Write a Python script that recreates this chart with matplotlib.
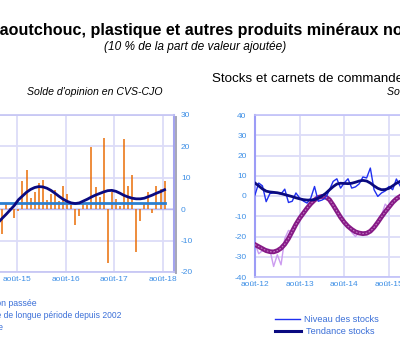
import numpy as np
import matplotlib
matplotlib.use("Agg")
import matplotlib.pyplot as plt
from matplotlib.lines import Line2D

plt.rcParams["font.family"] = ["Liberation Sans", "DejaVu Sans"]
plt.rcParams["axes.unicode_minus"] = False

W, H = 400, 353

# --- left panel : production passée, monthly, months relative to août-15 ---
prod_start = -4
production = [-7.8, 1.7, 0.3, -2.9, -0.6, 9.1, 12.6, 3.6, 5.6, 8.5, 9.4, 3.0, 4.7, 6.2,
              2.5, 7.5, 4.7, 1.2, -5.0, -2.3, 1.5, 1.2, 19.8, 7.0, 4.0, 22.8, -17.2,
              5.6, 3.2, 1.0, 22.3, 7.5, 11.0, -13.5, -3.9, 1.5, 5.4, -1.1, 7.3, 6.5, 9.1]
trend_start = -5
prod_trend = [-4.3, -2.9, -1.6, -0.2, 1.2, 3.0, 4.2, 5.4, 6.3, 6.9, 7.2, 7.1, 6.7, 6.0,
              5.1, 4.1, 3.2, 2.5, 2.0, 1.8, 2.0, 2.6, 3.2, 3.9, 4.5, 5.0, 5.5, 5.9, 6.0,
              5.7, 5.1, 4.4, 3.9, 3.5, 3.3, 3.3, 3.5, 4.0, 4.5, 5.1, 5.6, 6.2]
long_run_avg = 1.9
left_ticks = [0, 12, 24, 36]
left_labels = ["août-15", "août-16", "août-17", "août-18"]

# --- right panel : stocks et carnets, monthly from août-12 ---
stocks = [0.6, 6.4, 5.0, -2.8, 1.2, 1.6, 1.5, 1.0, 3.4, -3.2, -2.6, 1.5, -1.0, -2.5,
          -3.5, -1.0, 4.7, -2.6, -2.0, -1.0, 3.0, 7.2, 8.5, 3.9, 6.5, 8.5, 3.9, 4.5,
          6.0, 9.4, 8.9, 13.8, 3.1, -0.2, 1.5, 2.5, 4.7, 3.1, 8.4, 5.0]
stocks_trend = [6.4, 5.0, 3.5, 2.4, 2.0, 1.8, 1.6, 1.2, 0.7, 0.2, -0.3, -0.9, -1.4, -1.8,
                -2.0, -2.0, -1.8, -1.0, 0.0, 1.3, 3.0, 4.6, 5.9, 6.3, 6.2, 6.1, 6.3, 6.8,
                7.4, 7.7, 7.4, 6.4, 5.0, 3.8, 3.1, 3.2, 3.8, 5.0, 6.3, 7.2]
carnets = [-23.5, -28.5, -27.0, -26.0, -26.5, -34.8, -29.0, -34.0, -21.0, -17.0, -17.8,
           -14.5, -11.5, -8.0, -6.5, -3.0, -2.5, -0.5, 0.5, -1.0, -2.5, -3.5, -8.5, -10.0,
           -13.5, -14.5, -18.0, -20.0, -18.0, -19.5, -18.0, -17.0, -16.5, -12.0, -9.5,
           -4.0, -6.0, -2.0, -1.0, 0.0]
carnets_trend = [-24.0, -25.0, -26.0, -27.0, -27.5, -27.6, -27.0, -25.8, -23.8, -21.0,
                 -17.5, -14.0, -11.0, -8.5, -6.0, -3.8, -2.0, -0.7, -0.2, -0.5, -1.8,
                 -4.5, -7.5, -10.5, -13.0, -15.0, -16.5, -17.7, -18.3, -18.6, -18.4,
                 -17.4, -15.5, -13.0, -10.3, -7.8, -5.5, -3.2, -1.4, -0.2]
right_ticks = [0, 12, 24, 36, 48, 60, 72]
right_labels = ["août-12", "août-13", "août-14", "août-15", "août-16", "août-17", "août-18"]

GRID = "#dcdcf8"
TICK = "#3d8fe6"
LEG = "#3a6fd8"


def px(x):
    return x / W


def py(y):
    return 1 - y / H


fig = plt.figure(figsize=(W / 100, H / 100), dpi=100)
fig.patch.set_facecolor("white")

# ---------- left panel ----------
axl = fig.add_axes([px(-130), py(272), px(304), (272 - 115) / H])
m_prod = np.arange(len(production)) + prod_start
m_trend = np.arange(len(prod_trend)) + trend_start
axl.vlines(m_prod + 0.35, 0, production, colors="#ea7310", lw=1.15, zorder=2)
axl.plot([m_prod[0] - 40, m_prod[-1] + 0.35], [long_run_avg, long_run_avg],
         color="#2a7fd0", lw=2, zorder=3)
axl.plot(m_trend + 0.35, prod_trend, color="#0a0a80", lw=2, zorder=4)
axl.axhline(0, color="#b8b8f0", lw=1, zorder=1)
axl.set_xlim(-36.2, 38.67)
axl.set_ylim(-20, 30)
axl.set_yticks([-20, -10, 0, 10, 20, 30])
axl.set_xticks(left_ticks)
axl.set_xticklabels(left_labels)
axl.yaxis.tick_right()
axl.tick_params(axis="both", labelsize=6, colors=TICK, length=0, pad=3)
axl.tick_params(axis="y", pad=5)
axl.grid(True, color=GRID, lw=1.3, zorder=0)
axl.set_axisbelow(True)
for s in ["top", "bottom", "left"]:
    axl.spines[s].set_color("#c4c4f4")
    axl.spines[s].set_linewidth(1.2)
axl.spines["right"].set_color("#a4a4ee")
axl.spines["right"].set_linewidth(1.5)
fig.add_artist(Line2D([px(176), px(176)], [py(117), py(273)], color="#a6a6b8", lw=1.4))

# ---------- right panel ----------
axr = fig.add_axes([px(255), py(277), px(285), 162 / H])
m_r = np.arange(len(stocks))
axr.plot(m_r, carnets, color="#cc9cf0", lw=1, zorder=2)
axr.plot(m_r, carnets_trend, color="#861a86", lw=3.4, zorder=3)
axr.plot(m_r, carnets_trend, color="#c27ac2", lw=0.8, ls=(0, (1.5, 1.5)), zorder=4)
axr.plot(m_r, stocks, color="#1f2ff0", lw=1, zorder=3)
axr.plot(m_r, stocks_trend, color="#0a0a80", lw=2, zorder=4)
axr.set_xlim(0, 76.6)
axr.set_ylim(-40, 40)
axr.set_yticks(range(-40, 41, 10))
axr.set_xticks(right_ticks)
axr.set_xticklabels(right_labels)
axr.tick_params(axis="both", labelsize=6, colors=TICK, length=0, pad=3)
axr.tick_params(axis="y", pad=6)
axr.grid(True, color=GRID, lw=1.3, zorder=0)
axr.set_axisbelow(True)
for s in ["top", "bottom", "right"]:
    axr.spines[s].set_color("#c0c0f8")
    axr.spines[s].set_linewidth(1.2)
axr.spines["left"].set_color("#9c9cf6")
axr.spines["left"].set_linewidth(1.5)

# ---------- titles ----------
title = "Caoutchouc, plastique et autres produits minéraux non métalliques"
r = fig.canvas.get_renderer()
tmp = fig.text(0, 0, "C", fontsize=11.6, fontweight="bold")
wC = tmp.get_window_extent(r).width
tmp.remove()
fig.text(-wC / W, py(31), title, ha="left", va="center", fontsize=11.6,
         fontweight="bold", color="black")
fig.text(px(195), py(47), "(10 % de la part de valeur ajoutée)", ha="center",
         va="center", fontsize=8.6, style="italic", color="black")
fig.text(px(95), py(92), "Solde d'opinion en CVS-CJO", ha="center", va="center",
         fontsize=7.6, style="italic", color="black")
fig.text(px(212), py(79), "Stocks et carnets de commandes", ha="left", va="center",
         fontsize=9.6, color="black")
fig.text(px(387), py(92), "Solde d'opinion en CVS-CJO", ha="left", va="center",
         fontsize=7.6, style="italic", color="black")

# ---------- legends ----------
fig.text(px(37), py(303), "Production passée", ha="right", va="center",
         fontsize=6.3, color=LEG)
fig.text(px(121), py(316), "Moyenne de longue période depuis 2002", ha="right",
         va="center", fontsize=6.15, color=LEG)
fig.text(px(4), py(328), "Tendance", ha="right", va="center", fontsize=6.3, color=LEG)

fig.add_artist(Line2D([px(275), px(300)], [py(319), py(319)], color="#1f2ff0", lw=1))
fig.add_artist(Line2D([px(275), px(301)], [py(331), py(331)], color="#0a0a80", lw=2.2))
fig.text(px(304), py(319), "Niveau des stocks", ha="left", va="center",
         fontsize=6.6, color=LEG)
fig.text(px(306), py(331), "Tendance stocks", ha="left", va="center",
         fontsize=6.6, color=LEG)

fig.savefig("out.png", dpi=100, facecolor="white")
